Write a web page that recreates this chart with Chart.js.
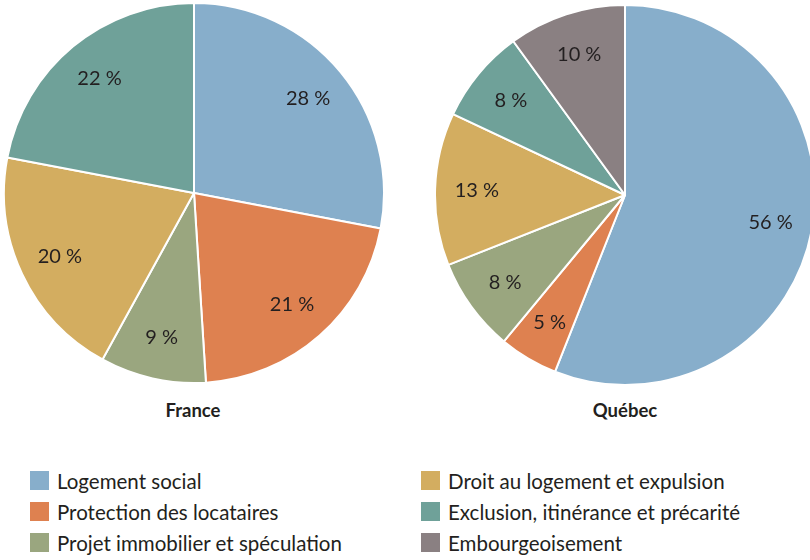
<!DOCTYPE html>
<html>
<head>
<meta charset="utf-8">
<script src="https://cdn.jsdelivr.net/npm/chart.js@4.4.1/dist/chart.umd.min.js"></script>
<style>
  html, body { margin: 0; padding: 0; background: #fff; }
  body { width: 810px; height: 560px; overflow: hidden; position: relative; font-family: Lato, "Noto Sans", sans-serif; color: #231f20; }
  canvas { position: absolute; }
  #cFrance { left: 3px; top: 2px; }
  #cQuebec { left: 434px; top: 4px; }
  .ptitle { position: absolute; top: 399px; width: 200px; text-align: center; font-weight: bold; font-size: 18.5px; }
  #legend { position: absolute; left: 30px; top: 465px; display: grid; grid-template-columns: 391px 370px; grid-template-rows: repeat(3, 31px); grid-auto-flow: column; font-size: 20.5px; }
  .item { display: flex; align-items: center; white-space: nowrap; }
  .sw { width: 19px; height: 19px; margin-right: 8px; flex: none; }
</style>
</head>
<body>
<canvas id="cFrance" width="382" height="382"></canvas>
<canvas id="cQuebec" width="382" height="382"></canvas>
<div class="ptitle" style="left:93px">France</div>
<div class="ptitle" style="left:525px">Québec</div>
<div id="legend"></div>
<script>
// categories and colours
var categories = ['Logement social', 'Protection des locataires', 'Projet immobilier et spéculation',
                  'Droit au logement et expulsion', 'Exclusion, itinérance et précarité', 'Embourgeoisement'];
var colors = ['#87aecb', '#de8150', '#9aa67f', '#d3ad60', '#6fa199', '#8a8082'];

// shares in %
var franceValues = [28, 21, 9, 20, 22, 0];
var quebecValues = [56, 5, 8, 13, 8, 10];

// draws "xx %" inside each slice
var sliceLabels = {
    id: 'sliceLabels',
    afterDatasetsDraw: function(chart) {
        var ctx = chart.ctx;
        var meta = chart.getDatasetMeta(0);
        var values = chart.data.datasets[0].data;
        ctx.save();
        ctx.font = '20px Lato, "Noto Sans", sans-serif';
        ctx.fillStyle = '#231f20';
        ctx.textAlign = 'center';
        ctx.textBaseline = 'middle';
        meta.data.forEach(function(arc, i) {
            if (!values[i]) return;
            var p = arc.getProps(['x', 'y', 'startAngle', 'endAngle', 'outerRadius'], true);
            var mid = (p.startAngle + p.endAngle) / 2;
            var r = p.outerRadius * 0.78;
            ctx.fillText(values[i] + ' %', p.x + Math.cos(mid) * r, p.y + Math.sin(mid) * r);
        });
        ctx.restore();
    }
};

function makePie(id, values) {
    var ctx = document.getElementById(id).getContext('2d');
    return new Chart(ctx, {
        type: 'pie',
        data: {
            labels: categories,
            datasets: [{
                data: values,
                backgroundColor: colors,
                borderColor: '#ffffff',
                borderWidth: 2
            }]
        },
        options: {
            responsive: false,
            animation: false,
            layout: { padding: 0 },
            plugins: {
                legend: { display: false },
                tooltip: { enabled: false }
            }
        },
        plugins: [sliceLabels]
    });
}

makePie('cFrance', franceValues);
makePie('cQuebec', quebecValues);

// html legend, two columns
var legend = document.getElementById('legend');
categories.forEach(function(cat, i) {
    var item = document.createElement('div');
    item.className = 'item';
    item.innerHTML = '<span class="sw" style="background:' + colors[i] + '"></span>' + cat;
    legend.appendChild(item);
});
</script>
</body>
</html>
